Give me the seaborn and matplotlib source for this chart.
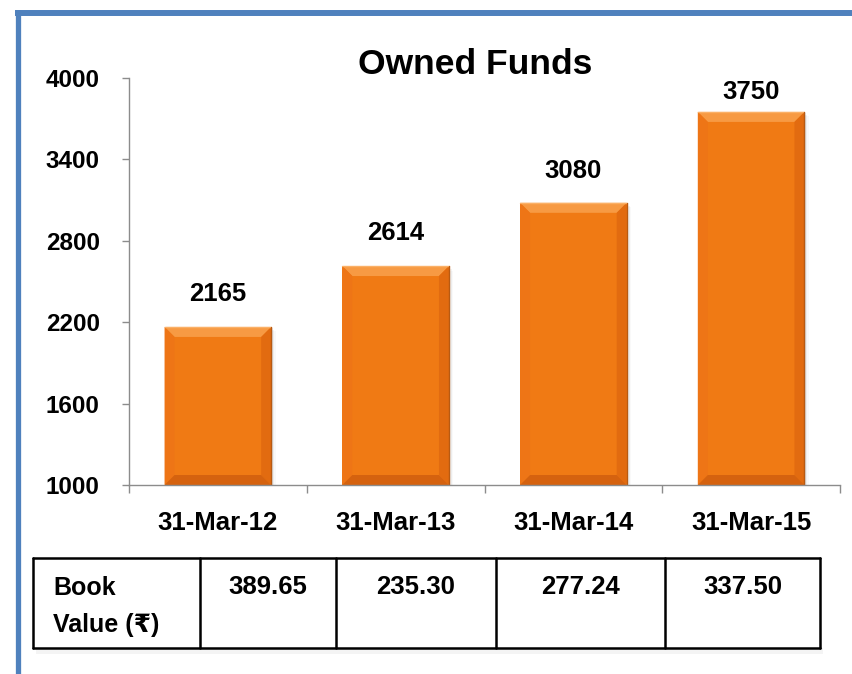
import matplotlib
matplotlib.use("Agg")
import matplotlib.pyplot as plt
from matplotlib.patches import Polygon, Rectangle
from matplotlib.lines import Line2D
import seaborn as sns
import pandas as pd

# ---- data ----
dates = ["31-Mar-12", "31-Mar-13", "31-Mar-14", "31-Mar-15"]
owned_funds = [2165, 2614, 3080, 3750]
book_values = ["389.65", "235.30", "277.24", "337.50"]
row_label = ["Book", "Value (\u20b9)"]
y_ticks = [1000, 1600, 2200, 2800, 3400, 4000]
title = "Owned Funds"

sns.set_theme(style="white")
plt.rcParams["font.family"] = ["Liberation Sans", "DejaVu Sans"]
plt.rcParams["font.weight"] = "bold"

W, H = 852, 674
fig = plt.figure(figsize=(W / 100, H / 100), dpi=100)
fig.patch.set_facecolor("white")

# axes placed in pixel terms
ax_l, ax_r, ax_t, ax_b = 129, 840, 78, 485
ax = fig.add_axes([ax_l / W, 1 - ax_b / H, (ax_r - ax_l) / W, (ax_b - ax_t) / H])

df = pd.DataFrame({"date": dates, "funds": owned_funds})
face = "#F07A14"
sns.barplot(data=df, x="date", y="funds", color=face, saturation=1,
            width=0.6, ax=ax, edgecolor="none")

y_min, y_max = 1000, 4000
ax.set_ylim(y_min, y_max)
ax.set_xlim(-0.5, 3.5)
ax.set_yticks(y_ticks)
ax.set_xlabel("")
ax.set_ylabel("")
ax.set_facecolor("white")
for s in ["top", "right"]:
    ax.spines[s].set_visible(False)
for s in ["left", "bottom"]:
    ax.spines[s].set_color("#8C8C8C")
    ax.spines[s].set_linewidth(1.0)
    ax.spines[s].set_zorder(5)

ax.tick_params(axis="y", direction="out", length=5, width=1, color="#8C8C8C",
               pad=16, labelsize=17.5, left=True)
ax.tick_params(axis="x", which="major", length=0, pad=19, labelsize=18.5)
ax.set_xticks([i - 0.5 for i in range(len(dates) + 1)], minor=True)
ax.tick_params(axis="x", which="minor", direction="out", length=6, width=1,
               color="#8C8C8C", bottom=True)
for lab in ax.get_xticklabels() + ax.get_yticklabels():
    lab.set_fontweight("bold")
    lab.set_color("black")

# bevel shading on each bar
px_x = (ax_r - ax_l) / 4.0          # pixels per category unit
px_y = (ax_b - ax_t) / (y_max - y_min)
bev = 10
bx, by = bev / px_x, bev / px_y
for p in list(ax.patches):
    x0, w = p.get_x(), p.get_width()
    y0 = max(p.get_y(), y_min)
    y1 = p.get_y() + p.get_height()
    x1 = x0 + w
    # soft shadow to the right
    for k, a in enumerate([0.12, 0.07, 0.035]):
        d = (k + 1) * 1.5
        ax.add_patch(Rectangle((x0 + d / px_x, y0), w, (y1 - y0) - d / px_y,
                               facecolor="#555555", alpha=a, edgecolor="none",
                               zorder=p.get_zorder() - 0.5))
    top = Polygon([(x0, y1), (x1, y1), (x1 - bx, y1 - by), (x0 + bx, y1 - by)],
                  closed=True, facecolor="#F79A43", edgecolor="none", zorder=3)
    left = Polygon([(x0, y0), (x0, y1), (x0 + bx, y1 - by), (x0 + bx, y0 + by)],
                   closed=True, facecolor="#EE7516", edgecolor="none", zorder=3)
    right = Polygon([(x1, y0), (x1, y1), (x1 - bx, y1 - by), (x1 - bx, y0 + by)],
                    closed=True, facecolor="#E26B10", edgecolor="none", zorder=3)
    bottom = Polygon([(x0, y0), (x1, y0), (x1 - bx, y0 + by), (x0 + bx, y0 + by)],
                     closed=True, facecolor="#D5620F", edgecolor="none", zorder=3)
    for poly in (top, left, right, bottom):
        ax.add_patch(poly)
    ax.add_line(Line2D([x0, x1], [y1, y1], color="#FBB066", lw=1.0, zorder=4))
    ax.add_line(Line2D([x1, x1], [y0, y1], color="#B85A12", lw=1.0, zorder=4))

# value labels above bars
label_offsets = [15, 15, 14, 6]
for i, v in enumerate(owned_funds):
    ax.annotate(f"{v}", (i, v), xytext=(0, label_offsets[i]),
                textcoords="offset points", ha="center", va="bottom",
                fontsize=18.5, fontweight="bold", color="black",
                annotation_clip=False)

# overlay in pixel coordinates for title, frame and table
ov = fig.add_axes([0, 0, 1, 1], zorder=-1)
ov.set_xlim(0, W)
ov.set_ylim(H, 0)
ov.axis("off")
ov.patch.set_alpha(0)

fig.text(475 / W, 1 - 64 / H, title, ha="center", va="center",
         fontsize=25.5, fontweight="bold", color="black")

# blue frame on left and top
frame_c = "#4F81BD"
ov.add_line(Line2D([17.5, 17.5], [10, H], color=frame_c, lw=3.8,
                   solid_capstyle="butt"))
ov.add_line(Line2D([15, W], [13, 13], color=frame_c, lw=4.3,
                   solid_capstyle="butt"))

# book value table
col_edges = [33, 200, 336, 496, 665, 820]
t_top, t_bot = 558, 648
ov.add_patch(Rectangle((col_edges[0] + 3, t_bot), col_edges[-1] - col_edges[0],
                       6, facecolor="#EDEDED", edgecolor="none", alpha=0.6))
ov.add_line(Line2D([col_edges[0], col_edges[-1]], [t_top, t_top], color="black", lw=1.8))
ov.add_line(Line2D([col_edges[0], col_edges[-1]], [t_bot, t_bot], color="black", lw=1.8))
for xe in col_edges:
    ov.add_line(Line2D([xe, xe], [t_top, t_bot], color="black", lw=1.8))

ov.text(53, 595, row_label[0], ha="left", va="baseline", fontsize=18,
        fontweight="bold", color="black")
ov.text(53, 632, row_label[1], ha="left", va="baseline", fontsize=18,
        fontweight="bold", color="black")
for i, bv in enumerate(book_values):
    cx = (col_edges[i + 1] + col_edges[i + 2]) / 2
    ov.text(cx, 594, bv, ha="center", va="baseline", fontsize=18.5,
            fontweight="bold", color="black")

fig.savefig("out.png", dpi=100, facecolor="white")
